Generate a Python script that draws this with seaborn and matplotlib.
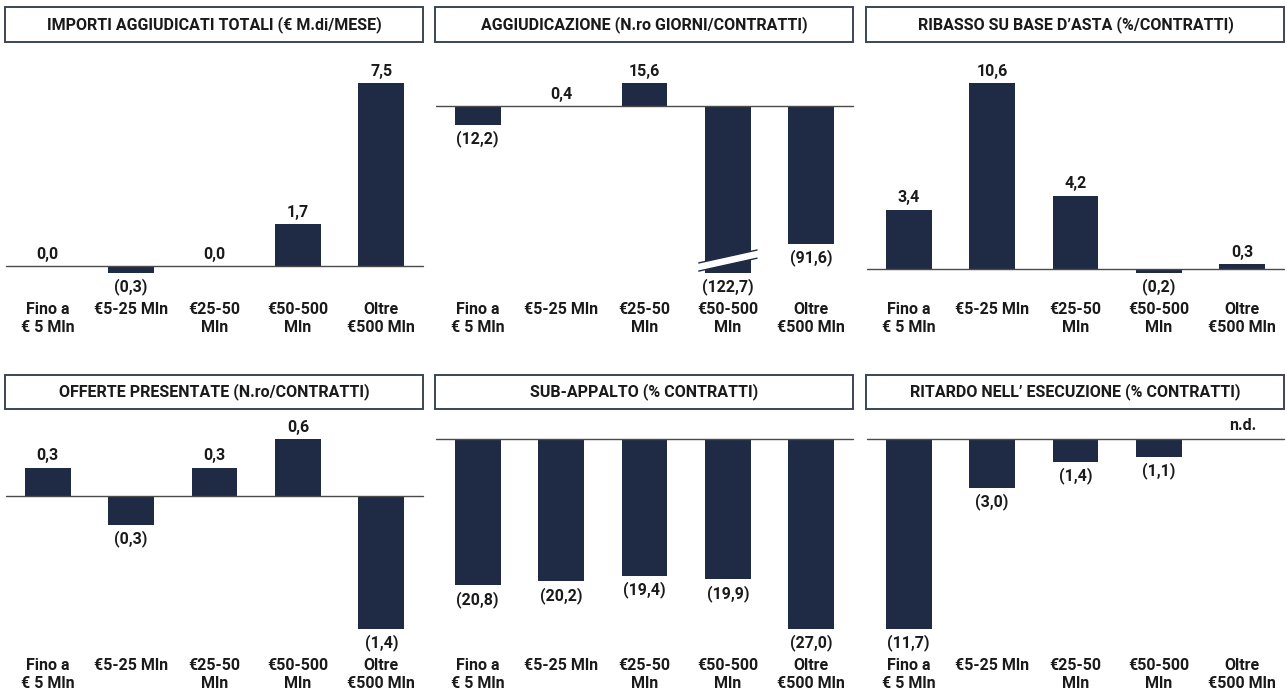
import numpy as np
import pandas as pd
import matplotlib
matplotlib.use("Agg")
import matplotlib.pyplot as plt
import matplotlib.transforms as mtransforms
from matplotlib.patches import Rectangle, Polygon
from matplotlib.lines import Line2D
import seaborn as sns

# ---- data -------------------------------------------------------------
categories = ["Fino a\n€ 5 Mln", "€5-25 Mln", "€25-50\nMln", "€50-500\nMln", "Oltre\n€500 Mln"]

titles = [
    "IMPORTI AGGIUDICATI TOTALI (€ M.di/MESE)",
    "AGGIUDICAZIONE (N.ro GIORNI/CONTRATTI)",
    "RIBASSO SU BASE D’ASTA (%/CONTRATTI)",
    "OFFERTE PRESENTATE (N.ro/CONTRATTI)",
    "SUB-APPALTO (% CONTRATTI)",
    "RITARDO NELL’ ESECUZIONE (% CONTRATTI)",
]

importi = [0.0, -0.3, 0.0, 1.7, 7.5]
aggiudicazione = [-12.2, 0.4, 15.6, -122.7, -91.6]
ribasso = [3.4, 10.6, 4.2, -0.2, 0.3]
offerte = [0.3, -0.3, 0.3, 0.6, -1.4]
subappalto = [-20.8, -20.2, -19.4, -19.9, -27.0]
ritardo = [-11.7, -3.0, -1.4, -1.1, np.nan]

series = [importi, aggiudicazione, ribasso, offerte, subappalto, ritardo]

# truncated value axis for the panel with the outlier bar
axis_floor = {1: -111.0}

# ---- style --------------------------------------------------------------
NAVY = "#1f2a44"
TEXT = "#1a1a1a"
FRAME = "#3b4556"

sns.set_theme(style="white")
plt.rcParams["font.family"] = ["Roboto", "DejaVu Sans"]

W, H = 1287, 695
fig = plt.figure(figsize=(W / 100, H / 100), dpi=100)

col_left = [6, 436, 867]
ax_w = 417
row_top = [83, 439]
ax_h = 190
box_rows = [(7, 42), (375, 409)]


def fmt(v):
    s = f"{abs(v):.1f}".replace(".", ",")
    return f"({s})" if v < 0 else s


for i, (title, vals) in enumerate(zip(titles, series)):
    r, c = divmod(i, 3)
    left = col_left[c]
    top = row_top[r]
    ax = fig.add_axes([left / W, 1 - (top + ax_h) / H, ax_w / W, ax_h / H])

    df = pd.DataFrame({"cat": categories, "val": vals})
    sns.barplot(data=df, x="cat", y="val", order=categories, color=NAVY,
                saturation=1, width=0.55, linewidth=0, errorbar=None, ax=ax)

    arr = np.array(vals, dtype=float)
    lo = min(np.nanmin(arr), 0.0)
    hi = max(np.nanmax(arr), 0.0)
    lo = axis_floor.get(i, lo)
    ax.set_xlim(-0.5, 4.5)
    ax.set_ylim(lo, hi)

    ax.axhline(0, color="#4a4a4a", lw=1.0, zorder=1, clip_on=False)

    # value labels
    for k, v in enumerate(vals):
        if np.isnan(v):
            ax.annotate("n.d.", (k, 0), xytext=(0, 4), textcoords="offset points",
                        ha="center", va="bottom", fontsize=11.5, fontweight="bold",
                        color=TEXT, annotation_clip=False)
            continue
        if v >= 0:
            ax.annotate(fmt(v), (k, v), xytext=(0, 3), textcoords="offset points",
                        ha="center", va="bottom", fontsize=11.5, fontweight="bold",
                        color=TEXT, annotation_clip=False)
        else:
            ax.annotate(fmt(v), (k, max(v, lo)), xytext=(0, -4), textcoords="offset points",
                        ha="center", va="top", fontsize=11.5, fontweight="bold",
                        color=TEXT, annotation_clip=False)

    # break marker on bars cut by the truncated axis
    for k, v in enumerate(vals):
        if not np.isnan(v) and v < lo:
            tr = mtransforms.blended_transform_factory(ax.transData, ax.transAxes)
            x0, x1 = k - 0.35, k + 0.35
            upper = [(x0, 0.053), (x1, 0.121)]
            lower = [(x0, 0.010), (x1, 0.078)]
            band = Polygon([upper[0], upper[1], lower[1], lower[0]], closed=True,
                           facecolor="white", edgecolor="none", transform=tr,
                           zorder=4, clip_on=False)
            ax.add_patch(band)
            for seg in (upper, lower):
                ax.add_line(Line2D([seg[0][0], seg[1][0]], [seg[0][1], seg[1][1]],
                                   color=NAVY, lw=1.0, transform=tr, zorder=5,
                                   clip_on=False))

    ax.set_xticks(range(len(categories)))
    ax.set_xticklabels(categories, fontsize=11.5, fontweight="bold", color=TEXT,
                       linespacing=1.25)
    ax.tick_params(axis="x", length=0, pad=21)
    ax.set_yticks([])
    ax.set_xlabel("")
    ax.set_ylabel("")
    for sp in ax.spines.values():
        sp.set_visible(False)

    # framed panel title
    b0, b1 = box_rows[r]
    rect = Rectangle(((left - 1) / W, 1 - b1 / H), (ax_w + 1) / W, (b1 - b0) / H,
                     transform=fig.transFigure, facecolor="white",
                     edgecolor=FRAME, lw=1.4)
    fig.patches.append(rect)
    fig.text((left + ax_w / 2) / W, 1 - (b0 + b1) / 2 / H, title,
             ha="center", va="center", fontsize=11.5, fontweight="bold", color=TEXT)

fig.savefig("out.png", dpi=100, facecolor="white")
